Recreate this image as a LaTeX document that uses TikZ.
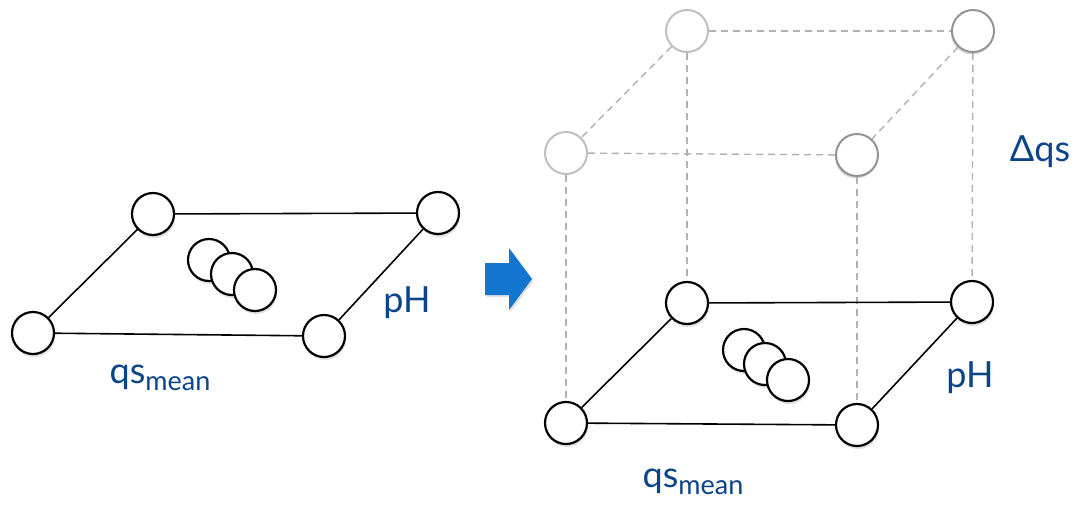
\documentclass[tikz,border=0pt]{standalone}
\usepackage{fontspec}
\setmainfont{Lato}
\usetikzlibrary{shadows}
\definecolor{lbl}{RGB}{12,68,138}
\definecolor{arr}{RGB}{18,118,208}
\newcommand{\qsmean}{qs\raisebox{-7pt}{\fontsize{27}{27}\selectfont mean}}
\begin{document}
\begin{tikzpicture}[x=1pt,y=-1pt,
  ball/.style={circle,draw=black,line width=2.2pt,fill=white,minimum size=42pt,inner sep=0pt,
    drop shadow={opacity=0.25,shadow xshift=1pt,shadow yshift=-3pt}},
  ghost/.style={circle,draw=gray!50,line width=2pt,fill=white,minimum size=42pt,inner sep=0pt},
  ghostdark/.style={circle,draw=gray!85,line width=2pt,fill=white,minimum size=42pt,inner sep=0pt,
    drop shadow={opacity=0.3,shadow xshift=-1pt,shadow yshift=-2.5pt}},
  link/.style={line width=1.6pt,black},
  dashline/.style={draw=gray!60,line width=1.4pt,dash pattern=on 7pt off 5pt},
  lab/.style={text=lbl,font=\fontsize{36}{36}\selectfont,inner sep=0pt}]
\fill[white] (0,0) rectangle (1073,504);
\useasboundingbox (0,0) rectangle (1073,504);

% ---------- left diagram ----------
\node[ball] (L1) at (153,214) {};
\node[ball] (L2) at (438,213) {};
\node[ball] (L3) at (33,333) {};
\node[ball] (L4) at (324,336) {};
\draw[link] (L1) -- (L2);
\draw[link] (L2) -- (L4);
\draw[link] (L4) -- (L3);
\draw[link] (L3) -- (L1);
\node[ball] (Ls1) at (209,260) {};
\node[ball] (Ls2) at (232,274) {};
\node[ball] (Ls3) at (255,290) {};
\node[lab] (pHL) at (407,303) {pH};
\node[lab] (qsL) at (160,378) {\qsmean};

% ---------- arrow ----------
\fill[arr, drop shadow={opacity=0.25,shadow xshift=1.5pt,shadow yshift=-2pt}]
  (485,263) -- (509,263) -- (509,248) -- (532,279) -- (509,310) -- (509,295) -- (485,295) -- cycle;

% ---------- right diagram ----------
\node[ghost] (T1) at (687,31) {};
\node[ghostdark] (T2) at (973,31) {};
\node[ghost] (M1) at (566,153) {};
\node[ghostdark] (M2) at (857,155) {};
\node[ball] (B1) at (687,303) {};
\node[ball] (B2) at (972,302) {};
\node[ball] (B3) at (566,423) {};
\node[ball] (B4) at (857,425) {};

\draw[dashline] (T1) -- (T2);
\draw[dashline] (T1) -- (M1);
\draw[dashline] (T2) -- (M2);
\draw[dashline] (M1) -- (M2);
\draw[dashline] (M1) -- (B3);
\draw[dashline] (T1) -- (B1);
\draw[dashline] (M2) -- (B4);
\draw[dashline] (T2) -- (B2);
\draw[link] (B1) -- (B2);
\draw[link] (B2) -- (B4);
\draw[link] (B4) -- (B3);
\draw[link] (B3) -- (B1);
\node[ball] (Rs1) at (744,350) {};
\node[ball] (Rs2) at (765,364) {};
\node[ball] (Rs3) at (788,380) {};
\node[lab] (pHR) at (970,378) {pH};
\node[lab] (dqs) at (1040,152) {Δqs};
\node[lab] (qsR) at (693,482) {\qsmean};
\end{tikzpicture}
\end{document}
